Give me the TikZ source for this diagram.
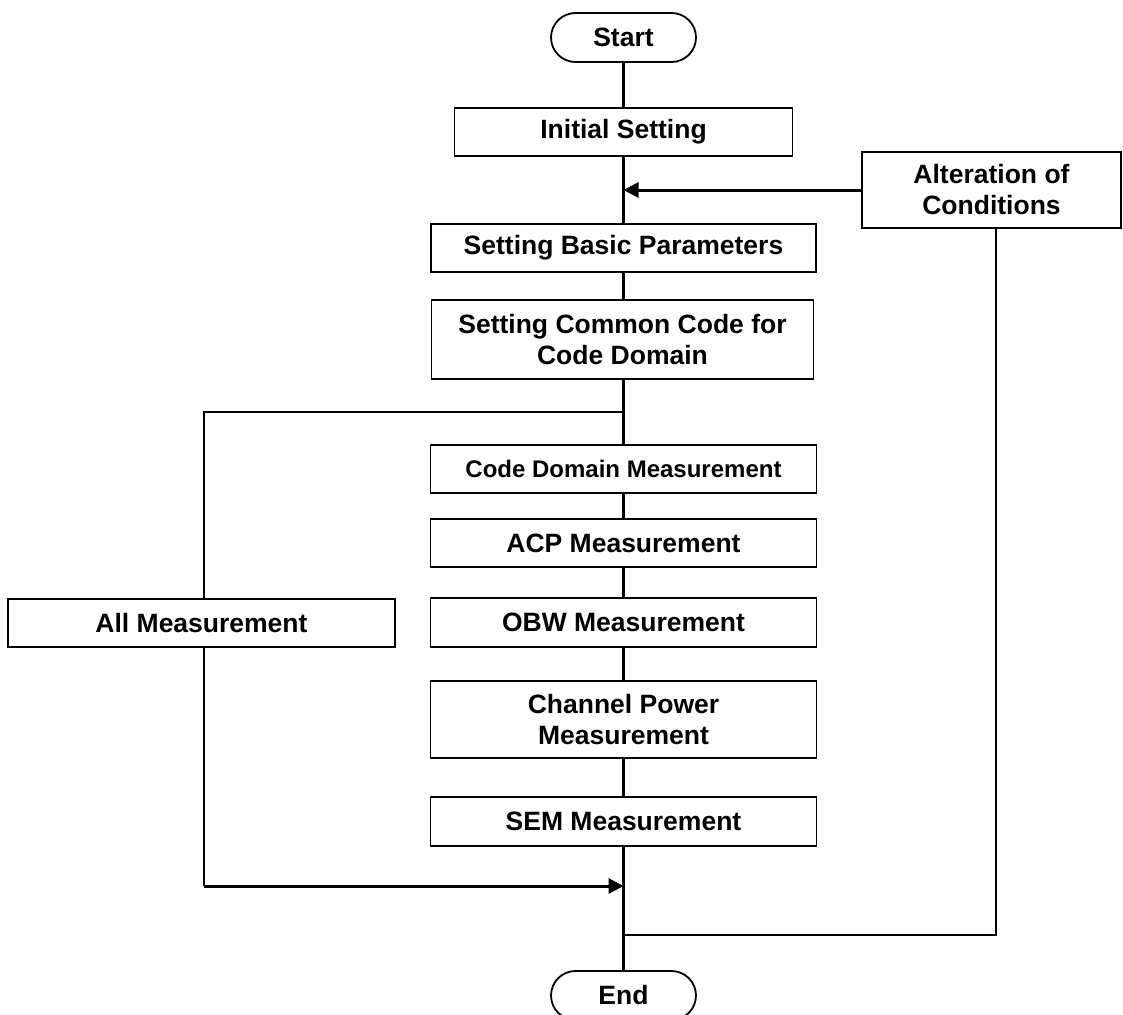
\documentclass[tikz,border=0pt]{standalone}
\usepackage{fontspec}
\setmainfont{Liberation Sans}
\usetikzlibrary{arrows.meta,shapes.misc}
\begin{document}
\begin{tikzpicture}[x=1pt,y=-1pt,
  box/.style={draw, line width=1.8pt, fill=white, align=center, inner sep=0pt,
    font=\bfseries\fontsize{26.5}{31}\selectfont},
  term/.style={box, rounded rectangle, minimum width=145pt, minimum height=49pt},
  ln/.style={line width=2.2pt},
  arr/.style={line width=3pt, -{Triangle[length=15pt,width=15pt]}}]
\useasboundingbox (0,0) rectangle (1123,1014);
\node[term] (start) at (623.5,37.5) {Start};
\node[box, minimum width=338pt, minimum height=48pt] (init) at (623.5,132) {Initial Setting};
\node[box, minimum width=259pt, minimum height=76pt] (alt) at (991.5,190) {Alteration of\\Conditions};
\node[box, minimum width=385pt, minimum height=48pt] (basic) at (623.5,248) {Setting Basic Parameters};
\node[box, minimum width=382pt, minimum height=79pt] (common) at (622.5,339.5) {Setting Common Code for\\Code Domain};
\node[box, minimum width=386pt, minimum height=48pt, font=\bfseries\fontsize{24}{28}\selectfont] (cdm) at (623.5,469) {Code Domain Measurement};
\node[box, minimum width=386pt, minimum height=48pt] (acp) at (623.5,543) {ACP Measurement};
\node[box, minimum width=386pt, minimum height=49pt] (obw) at (623.5,622.5) {OBW Measurement};
\node[box, minimum width=386pt, minimum height=77pt] (chp) at (623.5,719.5) {Channel Power\\Measurement};
\node[box, minimum width=386pt, minimum height=49pt] (sem) at (623.5,821.5) {SEM Measurement};
\node[box, minimum width=387pt, minimum height=48pt] (all) at (201.5,623) {All Measurement};
\node[term] (end) at (623.5,995.5) {End};

\coordinate (join1) at (623.5,190);
\coordinate (branch) at (623.5,412);
\coordinate (branchL) at (204,412);
\coordinate (allLow) at (204,886);
\coordinate (join2) at (623.5,886);
\coordinate (altLow) at (996,935);
\coordinate (join3) at (623.5,935);

\draw[ln] (start.south) -- (init.north);
\draw[ln] (init.south) -- (basic.north);
\draw[ln] (basic.south) -- (basic.south |- common.north);
\draw[ln] (basic.south |- common.south) -- (cdm.north);
\draw[ln] (cdm.south) -- (acp.north);
\draw[ln] (acp.south) -- (obw.north);
\draw[ln] (obw.south) -- (chp.north);
\draw[ln] (chp.south) -- (sem.north);
\draw[ln] (sem.south) -- (end.north);
\draw[arr] (alt.west |- join1) -- (join1);
\draw[ln] (branch) -- (branchL) -- (branchL |- all.north);
\draw[ln] (allLow |- all.south) -- (allLow);
\draw[arr] (allLow) -- (join2);
\draw[ln] (altLow |- alt.south) -- (altLow) -- (join3);
\end{tikzpicture}
\end{document}
